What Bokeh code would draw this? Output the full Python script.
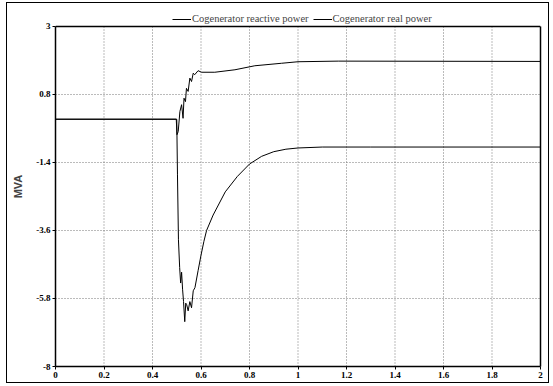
from bokeh.plotting import figure
from bokeh.models import FixedTicker, Legend, LegendItem, Range1d, LinearAxis, Span
from bokeh.embed import file_html
from bokeh.resources import INLINE

# Time (s)
t_reactive = [0, 0.498, 0.501, 0.506, 0.513, 0.52, 0.526, 0.53, 0.536, 0.54, 0.547,
              0.554, 0.561, 0.568, 0.574, 0.588, 0.602, 0.657, 0.74, 0.822, 0.932,
              1.0, 1.166, 2.0]
q_reactive = [0, 0, -0.5, -0.4, 0.25, 0.47, 0.03, 0.68, 0.57, 1.0, 0.9,
              1.33, 1.22, 1.49, 1.44, 1.57, 1.52, 1.52, 1.6, 1.73, 1.81,
              1.86, 1.88, 1.87]

t_real = [0, 0.5, 0.503, 0.507, 0.512, 0.516, 0.52, 0.524, 0.528, 0.533, 0.537,
          0.541, 0.547, 0.554, 0.561, 0.568, 0.575, 0.588, 0.6, 0.612, 0.623,
          0.65, 0.7, 0.75, 0.8, 0.85, 0.9, 0.95, 1.0, 1.1, 1.3, 2.0]
p_real = [0, 0, -1.8, -3.9, -4.8, -5.3, -4.95, -5.5, -5.9, -6.55, -5.95,
          -6.0, -6.2, -5.9, -6.1, -5.55, -5.45, -4.9, -4.4, -3.95, -3.6,
          -3.1, -2.35, -1.85, -1.45, -1.2, -1.05, -0.97, -0.93, -0.9, -0.9, -0.9]

x_ticks = [0, 0.2, 0.4, 0.6, 0.8, 1, 1.2, 1.4, 1.6, 1.8, 2]
x_tick_labels = ["0", "0.2", "0.4", "0.6", "0.8", "1", "1.2", "1.4", "1.6", "1.8", "2"]
y_ticks = [3, 0.8, -1.4, -3.6, -5.8, -8]
y_tick_labels = ["3", "0.8", "-1.4", "-3.6", "-5.8", "-8"]

y_min, y_max = -8, 3
# headroom above the plot box for the legend
y_view_max = 3.647

p = figure(width=543, height=381, output_backend="svg", toolbar_location=None,
           x_range=Range1d(0, 2), y_range=Range1d(y_min, y_view_max),
           min_border_left=48, min_border_right=10, min_border_top=3, min_border_bottom=18)
p.margin = (2, 0, 0, 6)
p.styles = {"border": "1px solid black"}

p.background_fill_color = "white"
p.border_fill_color = "white"
p.outline_line_color = None

# vertical grid lines limited to the plot box
p.segment(x0=x_ticks, y0=[y_min] * len(x_ticks), x1=x_ticks, y1=[y_max] * len(x_ticks),
          line_color="#777777", line_dash="1 2", line_width=1)
p.xgrid.visible = False

r1 = p.line(t_reactive, q_reactive, line_color="black", line_width=1)
r2 = p.line(t_real, p_real, line_color="black", line_width=1)

for ax, ticks, labels in ((p.xaxis[0], x_ticks, x_tick_labels), (p.yaxis[0], y_ticks, y_tick_labels)):
    ax.ticker = FixedTicker(ticks=ticks)
    ax.major_label_overrides = {tk: lb for tk, lb in zip(ticks, labels)}
    ax.minor_tick_line_color = None
    ax.major_tick_in = 0
    ax.major_tick_out = 3
    ax.major_label_text_font = "Liberation Serif"
    ax.major_label_text_font_style = "bold"
    ax.major_label_text_font_size = "9px"
    ax.major_label_text_color = "black"
    ax.axis_line_color = "black"
    ax.axis_line_width = 1.5
    ax.major_label_standoff = 2

p.yaxis[0].bounds = (y_min, y_max)
p.yaxis[0].axis_label = "MVA"
p.yaxis[0].axis_label_text_font = "Liberation Sans"
p.yaxis[0].axis_label_text_font_style = "bold"
p.yaxis[0].axis_label_text_font_size = "11px"
p.yaxis[0].axis_label_standoff = 9

# right edge of the plot box
right_axis = LinearAxis(bounds=(y_min, y_max), ticker=FixedTicker(ticks=[]),
                        major_tick_line_color=None, minor_tick_line_color=None,
                        major_label_text_font_size="0px", major_label_standoff=0,
                        major_tick_out=0, axis_line_color="black", axis_line_width=1.5)
p.add_layout(right_axis, "right")

# top edge of the plot box
p.add_layout(Span(location=y_max, dimension="width", line_color="black", line_width=1.5))

p.ygrid[0].ticker = FixedTicker(ticks=y_ticks)
p.ygrid[0].grid_line_color = "#777777"
p.ygrid[0].grid_line_dash = "1 2"
p.ygrid[0].grid_line_width = 1

legend = Legend(items=[LegendItem(label="Cogenerator reactive power", renderers=[r1]),
                       LegendItem(label="Cogenerator real power", renderers=[r2])],
                orientation="horizontal", location=(117, 342),
                label_text_font="Liberation Serif", label_text_font_size="10.5px",
                glyph_width=19, glyph_height=10, label_height=10, label_standoff=1,
                spacing=4, padding=1, margin=0,
                border_line_color=None, background_fill_alpha=0)
p.add_layout(legend, "center")

open("out.html", "w").write(file_html(p, INLINE))
